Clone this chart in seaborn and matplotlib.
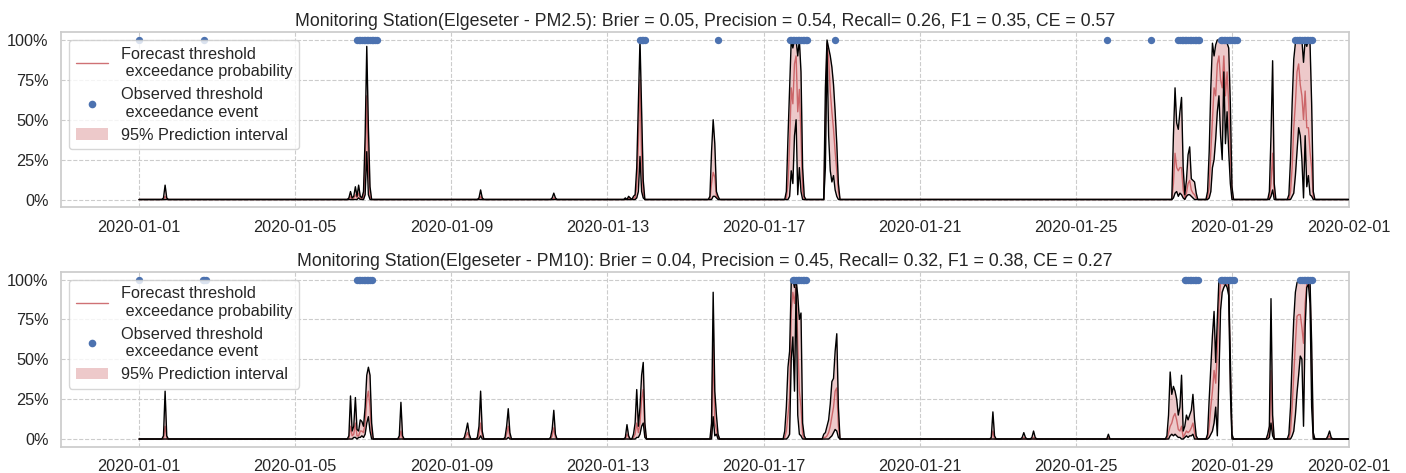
import numpy as np
import pandas as pd
import matplotlib
matplotlib.use("Agg")
import matplotlib.pyplot as plt
import matplotlib.dates as mdates
from matplotlib.ticker import PercentFormatter
from matplotlib.lines import Line2D
from matplotlib.patches import Patch
import seaborn as sns

# ---------------- data ----------------
START = "2020-01-01 00:00"
N_HOURS = 745  # hourly, 2020-01-01 00:00 .. 2020-02-01 00:00

TITLES = [
    "Monitoring Station(Elgeseter - PM2.5): Brier = 0.05, Precision = 0.54, Recall= 0.26, F1 = 0.35, CE = 0.57",
    "Monitoring Station(Elgeseter - PM10): Brier = 0.04, Precision = 0.45, Recall= 0.32, F1 = 0.38, CE = 0.27",
]
LEGEND_LABELS = [
    "Forecast threshold\n exceedance probability",
    "Observed threshold\n exceedance event",
    "95% Prediction interval",
]

# PM2.5 : non-zero episodes (start hour, hourly values in %), zero elsewhere
PM25_STARTS = [15, 129, 209, 254, 299, 351, 397, 421, 635, 656, 695, 707]
PM25_UPPER = [
    [1, 9, 1],
    [1, 5, 1, 2, 8, 2, 9, 2, 1, 5, 40, 96, 45, 8, 0],
    [1, 6, 1],
    [1, 4, 1],
    [1, 0, 2, 1, 0, 2, 3, 20, 60, 100, 55, 12, 0],
    [2, 30, 50, 35, 5, 2, 0],
    [0, 5, 39, 70, 100, 95, 100, 100, 90, 100, 80, 20, 2, 0],
    [0, 70, 100, 95, 90, 83, 72, 55, 35, 10, 0],
    [0, 40, 70, 48, 44, 55, 64, 20, 3, 12, 28, 33, 13, 12, 11, 4, 0],
    [0, 5, 30, 70, 98, 90, 97, 100, 100, 100, 99, 100, 100, 98, 95, 60, 8, 0],
    [5, 40, 87, 10, 0],
    [3, 25, 60, 88, 98, 100, 99, 98, 100, 86, 100, 96, 100, 98, 60, 5, 0],
]
PM25_FCST = [
    [0, 2, 0],
    [0, 2, 0, 1, 3, 1, 4, 1, 0, 2, 20, 65, 20, 2, 0],
    [0, 2, 0],
    [0, 1, 0],
    [0, 0, 1, 0, 0, 1, 1, 8, 35, 75, 25, 4, 0],
    [0, 10, 17, 14, 2, 1, 0],
    [0, 1, 10, 35, 70, 60, 85, 90, 55, 69, 40, 5, 0, 0],
    [0, 50, 98, 88, 68, 55, 44, 30, 18, 5, 0],
    [0, 10, 29, 20, 18, 20, 20, 6, 1, 4, 10, 12, 6, 4, 3, 1, 0],
    [0, 1, 8, 30, 50, 70, 65, 85, 90, 75, 70, 90, 65, 80, 60, 30, 2, 0],
    [1, 10, 29, 3, 0],
    [0, 5, 20, 45, 60, 80, 85, 72, 65, 50, 68, 45, 45, 30, 20, 1, 0],
]
PM25_LOWER = [
    [0, 0, 0],
    [0, 0, 0, 0, 0, 0, 1, 0, 0, 0, 3, 30, 3, 0, 0],
    [0, 0, 0],
    [0, 0, 0],
    [0, 0, 0, 0, 0, 0, 0, 1, 5, 27, 5, 1, 0],
    [0, 0, 2, 2, 1, 0, 0],
    [0, 0, 0, 2, 18, 10, 40, 50, 3, 20, 5, 0, 0, 0],
    [0, 20, 95, 40, 18, 11, 15, 6, 2, 0, 0],
    [0, 1, 4, 5, 2, 4, 3, 1, 0, 2, 3, 3, 2, 1, 0, 0, 0],
    [0, 0, 1, 5, 20, 25, 38, 55, 65, 40, 25, 80, 35, 55, 30, 10, 0, 0],
    [0, 2, 6, 0, 0],
    [0, 0, 2, 4, 15, 30, 45, 40, 25, 1, 40, 8, 15, 3, 2, 0, 0],
]
PM25_EVENT_RUNS = [(0, 0), (40, 40), (134, 146), (308, 311), (356, 356), (400, 411),
                   (428, 428), (595, 595), (622, 622), (639, 652), (665, 675), (711, 721)]

# PM10
PM10_STARTS = [15, 129, 160, 200, 208, 225, 253, 299, 351, 396, 420, 524, 543, 549,
               595, 631, 656, 693, 706, 731]
PM10_UPPER = [
    [2, 30, 2],
    [2, 27, 5, 8, 26, 6, 5, 12, 11, 8, 20, 40, 45, 40, 10, 0],
    [2, 23, 2],
    [1, 5, 10, 3, 0],
    [1, 8, 30, 5, 0],
    [1, 8, 19, 4, 0],
    [1, 6, 18, 3, 0],
    [1, 9, 2, 0, 0, 3, 10, 31, 8, 20, 40, 48, 10, 0],
    [0, 10, 92, 30, 15, 3, 0],
    [0, 5, 20, 45, 55, 98, 100, 95, 100, 90, 75, 79, 10, 2, 0],
    [0, 3, 4, 8, 12, 22, 36, 38, 55, 66, 20, 0],
    [1, 17, 2],
    [1, 4, 1],
    [1, 5, 1],
    [0, 3, 0],
    [0, 2, 15, 42, 28, 33, 30, 25, 15, 20, 40, 5, 8, 15, 12, 15, 18, 28, 12, 2, 0],
    [0, 3, 25, 45, 65, 80, 48, 75, 100, 100, 100, 100, 100, 99, 98, 50, 3, 0],
    [0, 3, 8, 88, 15, 0],
    [0, 3, 20, 50, 75, 92, 98, 100, 100, 99, 98, 100, 100, 100, 99, 60, 4, 0],
    [2, 5, 1],
]
PM10_FCST = [
    [0, 8, 0],
    [0, 8, 2, 3, 10, 2, 2, 5, 5, 4, 10, 25, 30, 20, 3, 0],
    [0, 5, 0],
    [0, 2, 4, 1, 0],
    [0, 3, 10, 2, 0],
    [0, 3, 8, 1, 0],
    [0, 2, 7, 1, 0],
    [0, 3, 1, 0, 0, 1, 3, 10, 4, 10, 25, 31, 4, 0],
    [0, 3, 59, 10, 6, 1, 0],
    [0, 1, 5, 15, 25, 80, 92, 85, 98, 60, 30, 20, 3, 0, 0],
    [0, 1, 1, 2, 4, 8, 14, 20, 30, 32, 8, 0],
    [0, 5, 0],
    [0, 1, 0],
    [0, 1, 0],
    [0, 1, 0],
    [0, 0, 4, 8, 10, 14, 16, 12, 6, 5, 8, 1, 3, 5, 4, 5, 7, 10, 4, 0, 0],
    [0, 1, 8, 20, 30, 43, 35, 55, 85, 98, 98, 97, 98, 97, 95, 40, 1, 0],
    [0, 1, 3, 43, 5, 0],
    [0, 0, 5, 20, 40, 60, 77, 78, 78, 70, 60, 85, 97, 98, 95, 40, 1, 0],
    [1, 2, 0],
]
PM10_LOWER = [
    [0, 0, 0],
    [0, 0, 0, 1, 1, 0, 1, 1, 2, 1, 3, 10, 14, 5, 0, 0],
    [0, 0, 0],
    [0, 0, 0, 0, 0],
    [0, 0, 2, 0, 0],
    [0, 0, 1, 0, 0],
    [0, 0, 0, 0, 0],
    [0, 0, 0, 0, 0, 0, 0, 1, 1, 3, 8, 10, 1, 0],
    [0, 0, 14, 2, 3, 0, 0],
    [0, 0, 0, 1, 3, 50, 64, 30, 95, 15, 3, 2, 0, 0, 0],
    [0, 0, 0, 0, 0, 1, 2, 4, 6, 5, 1, 0],
    [0, 0, 0],
    [0, 0, 0],
    [0, 0, 0],
    [0, 0, 0],
    [0, 0, 0, 2, 3, 2, 3, 2, 1, 1, 0, 0, 1, 2, 1, 2, 2, 3, 0, 0, 0],
    [0, 0, 1, 3, 5, 10, 20, 2, 40, 81, 92, 95, 97, 95, 90, 30, 0, 0],
    [0, 0, 1, 10, 2, 0],
    [0, 0, 0, 2, 5, 15, 29, 40, 52, 50, 8, 70, 95, 97, 85, 20, 0, 0],
    [0, 0, 0],
]
PM10_EVENT_RUNS = [(0, 0), (39, 41), (134, 143), (402, 410), (643, 651), (665, 673), (714, 721)]

# ---------------- helpers ----------------
times = pd.date_range(START, periods=N_HOURS, freq="h")


def build(starts, episodes):
    arr = np.zeros(N_HOURS)
    for s, vals in zip(starts, episodes):
        arr[s:s + len(vals)] = vals
    return arr / 100.0


def event_hours(runs):
    hrs = []
    for a, b in runs:
        hrs.extend(range(a, b + 1))
    return hrs


panels = [
    (TITLES[0], PM25_STARTS, PM25_UPPER, PM25_FCST, PM25_LOWER, PM25_EVENT_RUNS),
    (TITLES[1], PM10_STARTS, PM10_UPPER, PM10_FCST, PM10_LOWER, PM10_EVENT_RUNS),
]

# ---------------- style ----------------
sns.set_theme(style="whitegrid")
plt.rcParams["font.family"] = ["Liberation Sans", "DejaVu Sans"]

RED = "#C44E52"
BLUE = "#4C72B0"

fig, axes = plt.subplots(2, 1, figsize=(14.06, 4.73), dpi=100)
fig.subplots_adjust(left=0.0434, right=0.9595, top=0.9323, bottom=0.055, hspace=0.365)

for ax, (title, starts, up, fc, lo, runs) in zip(axes, panels):
    upper = build(starts, up)
    fcst = build(starts, fc)
    lower = build(starts, lo)
    df = pd.DataFrame({"time": times, "upper": upper, "fcst": fcst, "lower": lower})
    hrs = event_hours(runs)
    ev = pd.DataFrame({"time": times[hrs], "obs": np.ones(len(hrs))})

    ax.fill_between(df["time"], df["lower"], df["upper"], color=RED, alpha=0.3,
                    linewidth=0, zorder=1)
    sns.lineplot(data=df, x="time", y="fcst", ax=ax, color=RED, lw=1, alpha=0.8, zorder=2)
    sns.lineplot(data=df, x="time", y="upper", ax=ax, color="black", lw=1, zorder=3)
    sns.lineplot(data=df, x="time", y="lower", ax=ax, color="black", lw=1, zorder=3)
    sns.scatterplot(data=ev, x="time", y="obs", ax=ax, color=BLUE, s=28, linewidth=0,
                    zorder=4)

    ax.set_xlim(pd.Timestamp("2019-12-30"), pd.Timestamp("2020-02-01"))
    ax.set_ylim(-0.05, 1.05)
    ax.set_yticks([0, 0.25, 0.5, 0.75, 1.0])
    ax.yaxis.set_major_formatter(PercentFormatter(1.0, decimals=0))
    ax.xaxis.set_major_locator(mdates.DayLocator(bymonthday=[1, 5, 9, 13, 17, 21, 25, 29]))
    ax.xaxis.set_major_formatter(mdates.DateFormatter("%Y-%m-%d"))
    ax.grid(True, linestyle="--", color="#cccccc", linewidth=0.8)
    ax.set_xlabel("")
    ax.set_ylabel("")
    ax.tick_params(axis="both", labelsize=11.7, pad=3)
    ax.set_title(title, fontsize=12.8, pad=4)

    handles = [
        Line2D([], [], color=RED, alpha=0.8, lw=1),
        Line2D([], [], color=BLUE, marker="o", ls="", ms=5.5, mew=0),
        Patch(facecolor=RED, alpha=0.3, linewidth=0),
    ]
    ax.legend(handles, LEGEND_LABELS, loc="upper left", fontsize=11.7, framealpha=0.8)

fig.savefig("out.png", dpi=100)
